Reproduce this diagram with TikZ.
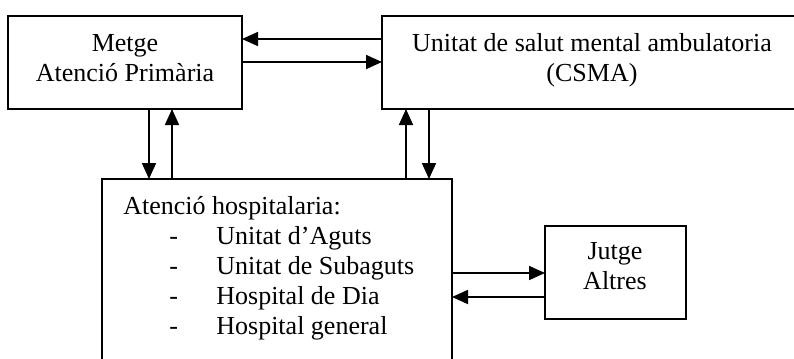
\documentclass[tikz,border=0pt]{standalone}
\usepackage{fontspec}
\setmainfont{Liberation Serif}
\usetikzlibrary{arrows.meta}
\begin{document}
\begin{tikzpicture}[x=0.5pt,y=-0.5pt,
  box/.style={draw, line width=0.9pt, rectangle, inner sep=0pt, outer sep=0pt},
  txt/.style={inner sep=0pt, align=center, font=\fontsize{13pt}{15pt}\selectfont},
  arr/.style={line width=0.9pt, -{Triangle[length=8pt,width=7pt]}}]
\useasboundingbox (0,0) rectangle (794,359);
% boxes
\node[box, minimum width=117pt, minimum height=46.5pt] (m) at (125,62.5) {};
\node[box, minimum width=209.5pt, minimum height=46.5pt] (c) at (591.5,62.5) {};
\node[box, minimum width=175pt, minimum height=93pt] (h) at (277,272) {};
\node[box, minimum width=70.5pt, minimum height=46.5pt] (j) at (615.5,272.5) {};
% texts
\node[txt, anchor=north] (mt) at (125,34) {Metge\\Atenció Primària};
\node[txt, anchor=north] (ct) at (592,33) {Unitat de salut mental ambulatoria\\(CSMA)};
\node[txt, anchor=north] (jt) at (615,242) {Jutge\\Altres};
\node[txt, anchor=north west, align=left] (ht) at (123,196) {Atenció hospitalaria:\\
\makebox[46.5pt][l]{\hspace*{23pt}-}Unitat d’Aguts\\
\makebox[46.5pt][l]{\hspace*{23pt}-}Unitat de Subaguts\\
\makebox[46.5pt][l]{\hspace*{23pt}-}Hospital de Dia\\
\makebox[46.5pt][l]{\hspace*{23pt}-}Hospital general};
% helper coordinates
\coordinate (y1) at (0,39);
\coordinate (y2) at (0,62);
\coordinate (x1) at (149,0);
\coordinate (x2) at (172,0);
\coordinate (x3) at (406,0);
\coordinate (x4) at (429,0);
\coordinate (y3) at (0,273);
\coordinate (y4) at (0,297);
% connectors
\draw[arr] (c.west |- y1) -- (m.east |- y1);
\draw[arr] (m.east |- y2) -- (c.west |- y2);
\draw[arr] (m.south -| x1) -- (h.north -| x1);
\draw[arr] (h.north -| x2) -- (m.south -| x2);
\draw[arr] (h.north -| x3) -- (c.south -| x3);
\draw[arr] (c.south -| x4) -- (h.north -| x4);
\draw[arr] (h.east |- y3) -- (j.west |- y3);
\draw[arr] (j.west |- y4) -- (h.east |- y4);
\end{tikzpicture}
\end{document}
